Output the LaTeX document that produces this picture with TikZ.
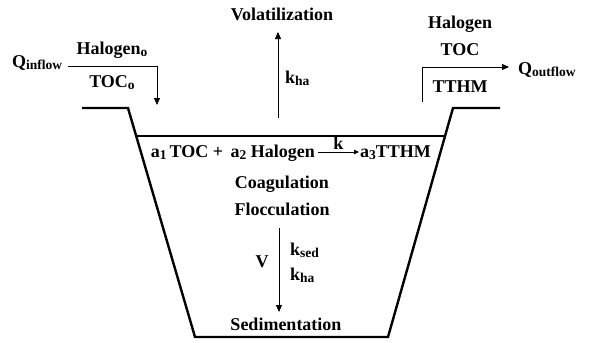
\documentclass[tikz,border=0pt]{standalone}
\usepackage{fontspec}
\setmainfont{Liberation Serif}
\usetikzlibrary{arrows.meta, positioning}
\newcommand{\lowsub}[1]{\raisebox{-2.5pt}{\fontsize{13.5}{15}\selectfont #1}}

\begin{document}
\begin{tikzpicture}[
  x=1pt, y=-1pt,
  lbl/.style={font=\fontsize{18}{21}\selectfont\bfseries, inner sep=0pt},
  arrow/.style={-{Triangle[length=7pt, width=6pt]}, line width=0.9pt},
  smallarrow/.style={-{Triangle[length=5pt, width=4.5pt]}, line width=0.9pt},
  wall/.style={line width=2.4pt},
]
\useasboundingbox (0,0) rectangle (590,343);

% Basin
\draw[wall] (82,108) -- (128,108) -- (195,337) -- (388,337) -- (453,108) -- (500,108);
\draw[line width=1.2pt] (136.2,136) -- (445,136);

% Volatilization
\node[lbl, anchor=base] (vol) at (282,20) {Volatilization};
\node[lbl, anchor=base west] (khaTop) at (285,83) {k\lowsub{ha}};
\coordinate (surf) at (278,118);
\coordinate (volTip) at (278,32);
\draw[arrow] (surf) -- (volTip);

% Inflow
\node[lbl, anchor=base west] (qin) at (12,67) {Q\lowsub{inflow}};
\node[lbl, anchor=base] (halIn) at (112,54) {Halogen\lowsub{o}};
\node[lbl, anchor=base] (tocIn) at (112,87) {TOC\lowsub{o}};
\coordinate (inCorner) at (157,66);
\coordinate (inTip) at (157,105);
\draw[arrow] ([xshift=6pt]qin.east |- inCorner) -- (inCorner) -- (inTip);

% Outflow
\node[lbl, anchor=base] (halOut) at (460,28) {Halogen};
\node[lbl, anchor=base] (tocOut) at (460,55) {TOC};
\node[lbl, anchor=base] (tthmOut) at (460,92) {TTHM};
\node[lbl, anchor=base west] (qout) at (518,74) {Q\lowsub{outflow}};
\coordinate (outStart) at (422,102);
\coordinate (outCorner) at (422,67);
\draw[arrow] (outStart) -- (outCorner) -- ([xshift=-9pt]qout.west |- outCorner);

% Reaction
\node[lbl, anchor=base east] (lhs) at (315,157) {a\lowsub{1}\,TOC + \,a\lowsub{2} Halogen};
\node[lbl, anchor=base west] (rhs) at (360,157) {a\lowsub{3}TTHM};
\draw[smallarrow] ([xshift=3pt,yshift=5pt]lhs.base east) -- node[lbl, above=2pt] (k) {k} ([xshift=-1pt,yshift=5pt]rhs.base west);

\node[lbl, anchor=base] (coag) at (282,188) {Coagulation};
\node[lbl, anchor=base] (floc) at (282,215) {Flocculation};

% Sedimentation
\coordinate (sedTop) at (279,228);
\coordinate (sedTip) at (279,312);
\draw[arrow] (sedTop) -- (sedTip);
\node[lbl, anchor=base] (v) at (262,267) {V};
\node[lbl, anchor=base west] (ksed) at (290,255) {k\lowsub{sed}};
\node[lbl, anchor=base west] (khaBot) at (290,280) {k\lowsub{ha}};
\node[lbl, anchor=base] (sed) at (286,330) {Sedimentation};

\end{tikzpicture}
\end{document}
